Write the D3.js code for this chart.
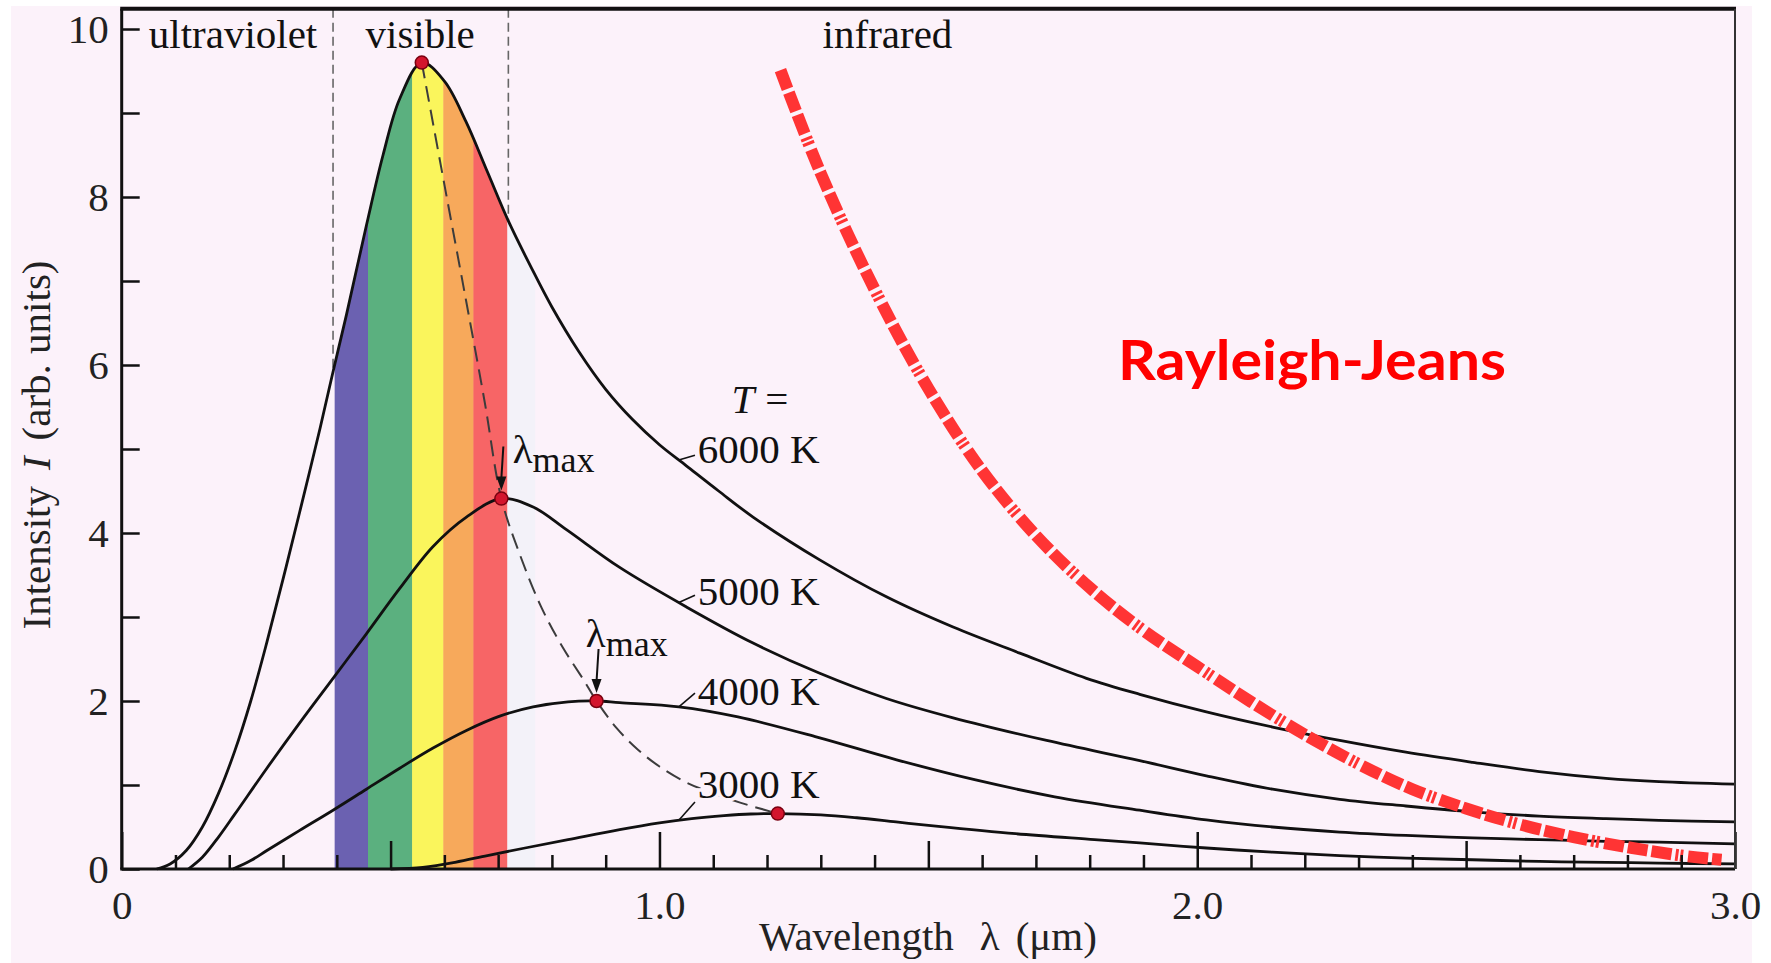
<!DOCTYPE html>
<html>
<head>
<meta charset="utf-8">
<script src="https://cdnjs.cloudflare.com/ajax/libs/d3/7.8.5/d3.min.js"></script>
<style>
  html, body { margin: 0; padding: 0; background: #ffffff; }
  svg { display: block; }
</style>
</head>
<body>
<div class="graph"></div>
<script>
// blackbody curves: [wavelength (um), intensity]
const curve6000 = [[0.065, 0], [0.09, 0.06], [0.12, 0.22], [0.15, 0.50], [0.18, 0.90], [0.21, 1.40],
  [0.24, 2.00], [0.27, 2.70], [0.30, 3.45], [0.331, 4.25], [0.369, 5.25], [0.393, 5.92], [0.418, 6.60],
  [0.455, 7.66], [0.486, 8.50], [0.517, 9.17], [0.558, 9.60], [0.60, 9.38], [0.64, 8.90], [0.68, 8.30],
  [0.72, 7.70], [0.76, 7.18], [0.80, 6.69], [0.85, 6.16], [0.90, 5.71], [0.95, 5.35], [1.00, 5.05],
  [1.05, 4.80], [1.11, 4.50], [1.174, 4.19], [1.298, 3.68], [1.422, 3.24], [1.546, 2.88], [1.670, 2.57],
  [1.794, 2.27], [1.893, 2.08], [2.017, 1.87], [2.140, 1.69], [2.265, 1.53], [2.388, 1.39], [2.512, 1.27],
  [2.636, 1.16], [2.760, 1.08], [2.859, 1.04], [3.0, 1.01]];
const curve5000 = [[0.124, 0], [0.15, 0.14], [0.18, 0.38], [0.21, 0.65], [0.27, 1.20], [0.331, 1.74],
  [0.393, 2.27], [0.455, 2.80], [0.517, 3.34], [0.579, 3.84], [0.641, 4.19], [0.706, 4.41], [0.765, 4.31],
  [0.827, 4.04], [0.926, 3.59], [1.050, 3.12], [1.174, 2.69], [1.298, 2.33], [1.422, 2.03], [1.546, 1.80],
  [1.720, 1.53], [1.893, 1.29], [2.017, 1.11], [2.140, 0.95], [2.265, 0.83], [2.388, 0.75], [2.512, 0.68],
  [2.636, 0.63], [2.760, 0.60], [2.859, 0.58], [3.0, 0.56]];
const curve4000 = [[0.207, 0], [0.24, 0.10], [0.27, 0.22], [0.331, 0.46], [0.393, 0.70], [0.455, 0.95],
  [0.517, 1.20], [0.579, 1.44], [0.641, 1.65], [0.703, 1.82], [0.765, 1.93], [0.83, 1.99], [0.883, 2.00],
  [0.926, 1.98], [1.036, 1.93], [1.146, 1.81], [1.293, 1.57], [1.441, 1.30], [1.588, 1.06], [1.735, 0.86],
  [1.893, 0.70], [2.017, 0.585], [2.140, 0.50], [2.265, 0.44], [2.388, 0.40], [2.512, 0.37], [2.636, 0.35],
  [2.760, 0.33], [2.859, 0.32], [3.0, 0.30]];
const curve3000 = [[0.50, 0], [0.56, 0.02], [0.62, 0.08], [0.68, 0.16], [0.75, 0.25], [0.83, 0.35],
  [0.926, 0.47], [1.00, 0.55], [1.06, 0.60], [1.12, 0.635], [1.17, 0.655], [1.22, 0.66], [1.30, 0.645],
  [1.367, 0.61], [1.44, 0.56], [1.514, 0.51], [1.662, 0.42], [1.809, 0.35], [1.893, 0.31], [2.017, 0.25],
  [2.140, 0.20], [2.265, 0.16], [2.388, 0.13], [2.512, 0.11], [2.636, 0.09], [2.760, 0.08], [2.859, 0.07],
  [3.0, 0.06]];

// dashed line through the peaks
const wienLocus = [[0.558, 9.60], [0.60, 8.15], [0.64, 6.78], [0.675, 5.56], [0.706, 4.41], [0.74, 3.75],
  [0.78, 3.12], [0.82, 2.64], [0.86, 2.24], [0.883, 2.00], [0.92, 1.68], [0.96, 1.42], [1.00, 1.22],
  [1.05, 1.03], [1.10, 0.90], [1.15, 0.79], [1.22, 0.66]];
const peakLam = [0.558, 0.706, 0.883, 1.220];
const peakInt = [9.60, 4.41, 2.00, 0.66];

const rayleighJeans = [[1.225, 9.51], [1.30, 8.28], [1.40, 6.90], [1.50, 5.72], [1.60, 4.74], [1.70, 3.97],
  [1.80, 3.35], [1.90, 2.84], [2.00, 2.41], [2.10, 1.99], [2.20, 1.60], [2.30, 1.25], [2.40, 0.95],
  [2.50, 0.72], [2.60, 0.53], [2.70, 0.38], [2.80, 0.26], [2.90, 0.16], [2.975, 0.11]];

// visible spectrum bands
const bandEdges = [0.396, 0.458, 0.540, 0.598, 0.654, 0.717, 0.768];
const bandColors = ["#6b61b1", "#5bb07f", "#faf55c", "#f7a95b", "#f76566", "#f3f2f9"];
const dividerLam = [0.393, 0.719];

const regionNames = ["ultraviolet", "visible", "infrared"];
const regionLam = [0.207, 0.555, 1.424];
const tempNames = ["6000 K", "5000 K", "4000 K", "3000 K"];
const tempLabelInt = [4.83, 3.14, 1.95, 0.845];
const yTicks = d3.range(0, 11);
const xMajor = [0, 1, 2, 3];
const xHalf = [0.5, 1.5, 2.5];
const xMinor = d3.range(1, 30).filter(i => i % 5 !== 0).map(i => i / 10);

const W = 1771, H = 963;
const bg = "#fcf2fa";
const serif = "'Liberation Serif', 'Times New Roman', serif";

const x = d3.scaleLinear().domain([0, 3]).range([121.7, 1735]);
const y = d3.scaleLinear().domain([0, 10]).range([869, 29]);
const yTop = 10.24;

function valueAt(curve, lam) {
  const i = d3.bisector(d => d[0]).left(curve, lam);
  if (i <= 0) return curve[0][1];
  if (i >= curve.length) return curve[curve.length - 1][1];
  const a = curve[i - 1], b = curve[i];
  return a[1] + (b[1] - a[1]) * (lam - a[0]) / (b[0] - a[0]);
}

const svg = d3.select(".graph").append("svg")
  .attr("width", W)
  .attr("height", H);

svg.append("rect").attr("width", W).attr("height", H).attr("fill", "#ffffff");
svg.append("rect").attr("x", 11).attr("y", 6).attr("width", 1741).attr("height", H - 6).attr("fill", bg);

const line = d3.line()
  .x(d => x(d[0]))
  .y(d => y(d[1]))
  .curve(d3.curveCatmullRom.alpha(0.5));

const area = d3.area()
  .x(d => x(d[0]))
  .y0(y(0))
  .y1(d => y(d[1]))
  .curve(d3.curveCatmullRom.alpha(0.5));

svg.append("defs").append("clipPath")
  .attr("id", "under6000")
  .append("path")
  .attr("d", area(curve6000));

// coloured bands under the hottest curve
svg.append("g")
  .attr("clip-path", "url(#under6000)")
  .selectAll("rect")
  .data(bandColors)
  .join("rect")
  .attr("x", (d, i) => x(bandEdges[i]))
  .attr("width", (d, i) => x(bandEdges[i + 1]) - x(bandEdges[i]) + 0.5)
  .attr("y", y(yTop))
  .attr("height", y(0) - y(yTop))
  .attr("fill", d => d);

// uv / visible / ir dividers
svg.append("g")
  .selectAll("line")
  .data(dividerLam)
  .join("line")
  .attr("x1", d => x(d)).attr("x2", d => x(d))
  .attr("y1", y(yTop))
  .attr("y2", d => y(valueAt(curve6000, d)))
  .attr("stroke", "#666")
  .attr("stroke-width", 1.6)
  .attr("stroke-dasharray", "9,5");

// wien locus
svg.append("path")
  .datum(wienLocus)
  .attr("fill", "none")
  .attr("stroke", "#3c3c3c")
  .attr("stroke-width", 2)
  .attr("stroke-dasharray", "16,8")
  .attr("d", line);

// the four curves
const curves = [curve6000, curve5000, curve4000, curve3000];
svg.append("g")
  .selectAll("path")
  .data(curves)
  .join("path")
  .attr("fill", "none")
  .attr("stroke", "#111")
  .attr("stroke-width", 2.8)
  .attr("d", line);

// rayleigh-jeans
svg.append("path")
  .datum(rayleighJeans)
  .attr("fill", "none")
  .attr("stroke", "#ff3434")
  .attr("stroke-width", 12)
  .attr("stroke-dasharray", "20,4,20,4,20,4,3,2,3,5")
  .attr("d", line);

// arrows to the 5000 K and 4000 K peaks
[1, 2].forEach(k => {
  const px = x(peakLam[k]), py = y(peakInt[k]);
  svg.append("line")
    .attr("x1", px + 2).attr("x2", px)
    .attr("y1", py - 52).attr("y2", py - 20)
    .attr("stroke", "#111").attr("stroke-width", 2);
  svg.append("path")
    .attr("d", `M${px - 5},${py - 22}L${px + 5},${py - 22}L${px},${py - 8}Z`)
    .attr("fill", "#111");
});

// peak dots
svg.append("g")
  .selectAll("circle")
  .data(peakLam)
  .join("circle")
  .attr("cx", d => x(d))
  .attr("cy", (d, i) => y(peakInt[i]))
  .attr("r", 6.5)
  .attr("fill", "#d3152d")
  .attr("stroke", "#7a0010")
  .attr("stroke-width", 1.5);

// temperature labels with leaders
const leaderDy = [-8, -10, -12, 4];
tempNames.forEach((name, i) => {
  const base = y(tempLabelInt[i]);
  svg.append("line")
    .attr("x1", x(1.036)).attr("y1", y(valueAt(curves[i], 1.036)))
    .attr("x2", x(1.066)).attr("y2", base + leaderDy[i])
    .attr("stroke", "#111").attr("stroke-width", 1.6);
  svg.append("text")
    .attr("x", x(1.071))
    .attr("y", base)
    .attr("font-family", serif)
    .attr("font-size", 41)
    .attr("fill", "#111")
    .attr("stroke", bg)
    .attr("stroke-width", 7)
    .attr("paint-order", "stroke")
    .text(name);
});

const tEq = svg.append("text")
  .attr("x", x(1.134)).attr("y", y(5.43))
  .attr("font-family", serif).attr("font-size", 41).attr("fill", "#111");
tEq.append("tspan").attr("font-style", "italic").text("T");
tEq.append("tspan").attr("dx", 11).text("=");

// lambda max labels
const lmaxLam = [0.727, 0.863];
const lmaxInt = [4.83, 2.64];
lmaxLam.forEach((l, i) => {
  const t = svg.append("text")
    .attr("x", x(l)).attr("y", y(lmaxInt[i]))
    .attr("font-family", serif).attr("font-size", 41).attr("fill", "#111");
  t.append("tspan").text("λ");
  t.append("tspan").attr("font-size", 36).attr("dy", 9).text("max");
});

// region labels
svg.append("g")
  .selectAll("text")
  .data(regionNames)
  .join("text")
  .attr("x", (d, i) => x(regionLam[i]))
  .attr("y", y(9.77))
  .attr("text-anchor", "middle")
  .attr("font-family", serif)
  .attr("font-size", 41)
  .attr("fill", "#111")
  .text(d => d);

svg.append("text")
  .attr("x", 1118).attr("y", 380)
  .attr("font-family", "Lato, 'Open Sans', sans-serif")
  .attr("font-weight", "bold")
  .attr("font-size", 56)
  .attr("textLength", 388)
  .attr("lengthAdjust", "spacingAndGlyphs")
  .attr("fill", "#ff0000")
  .text("Rayleigh-Jeans");

// axes
function styleAxis(g) {
  g.select(".domain").remove();
  g.selectAll(".tick line").attr("stroke", "#111").attr("stroke-width", 2.5);
  g.selectAll(".tick text").attr("font-family", serif).attr("font-size", 41).attr("fill", "#222");
}

svg.append("g")
  .attr("transform", `translate(${x(0)},0)`)
  .call(d3.axisLeft(y).tickValues(yTicks).tickSize(-18).tickPadding(13)
    .tickFormat(d => d % 2 === 0 ? d : ""))
  .call(styleAxis)
  .call(g => g.selectAll(".tick text").attr("dy", "0.34em"));

svg.append("g")
  .attr("transform", `translate(0,${y(0)})`)
  .call(d3.axisBottom(x).tickValues(xMinor).tickSize(-14).tickFormat(""))
  .call(styleAxis);
svg.append("g")
  .attr("transform", `translate(0,${y(0)})`)
  .call(d3.axisBottom(x).tickValues(xHalf).tickSize(-28).tickFormat(""))
  .call(styleAxis);
svg.append("g")
  .attr("transform", `translate(0,${y(0)})`)
  .call(d3.axisBottom(x).tickValues(xMajor).tickSize(-37).tickPadding(21)
    .tickFormat(d => d === 0 ? "0" : d3.format(".1f")(d)))
  .call(styleAxis);

// frame
svg.append("line").attr("x1", x(0)).attr("x2", x(0)).attr("y1", y(yTop)).attr("y2", y(0))
  .attr("stroke", "#111").attr("stroke-width", 3);
svg.append("line").attr("x1", x(0) - 1.5).attr("x2", x(3)).attr("y1", y(0)).attr("y2", y(0))
  .attr("stroke", "#111").attr("stroke-width", 3);
svg.append("line").attr("x1", x(0) - 1.5).attr("x2", x(3) + 1).attr("y1", y(yTop)).attr("y2", y(yTop))
  .attr("stroke", "#111").attr("stroke-width", 4);
svg.append("line").attr("x1", x(3)).attr("x2", x(3)).attr("y1", y(yTop)).attr("y2", y(0))
  .attr("stroke", "#333").attr("stroke-width", 2);

// axis titles
const xt = svg.append("text")
  .attr("x", 759).attr("y", 950)
  .attr("font-family", serif).attr("font-size", 41).attr("fill", "#222");
xt.append("tspan").text("Wavelength");
xt.append("tspan").attr("dx", 26).text("λ");
xt.append("tspan").attr("dx", 16).text("(μm)");

const yt = svg.append("text")
  .attr("transform", "translate(50,445) rotate(-90)")
  .attr("text-anchor", "middle")
  .attr("font-family", serif).attr("font-size", 41).attr("fill", "#222");
yt.append("tspan").text("Intensity");
yt.append("tspan").attr("dx", 16).attr("font-style", "italic").text("I");
yt.append("tspan").attr("dx", 16).text("(arb. units)");
</script>
</body>
</html>
